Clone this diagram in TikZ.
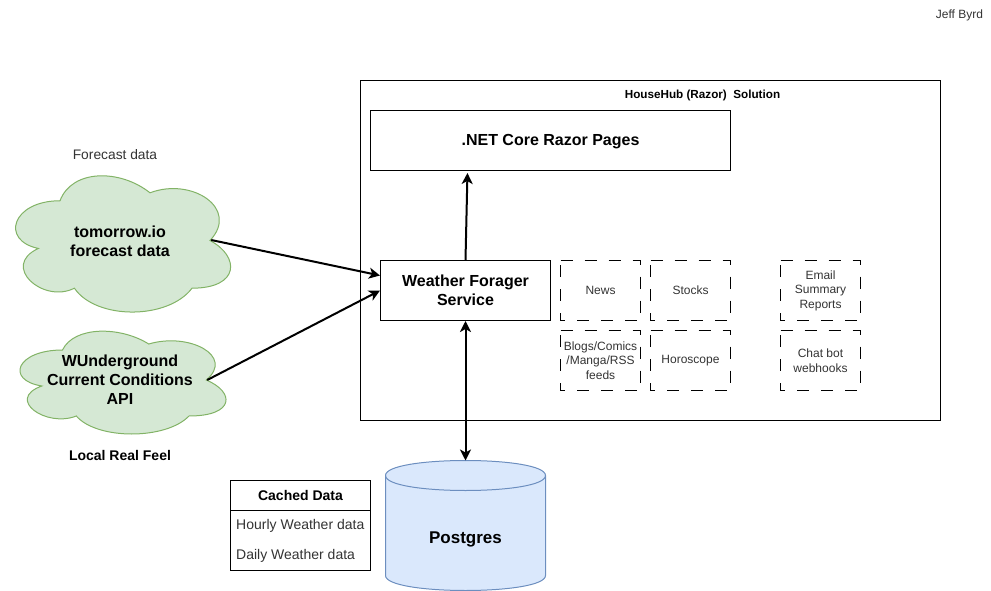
\documentclass[tikz,border=0pt]{standalone}
\usepackage{fontspec}
\setmainfont{Liberation Sans}
\usetikzlibrary{arrows.meta}
\definecolor{cloudfill}{HTML}{D5E8D4}
\definecolor{cloudline}{HTML}{82B366}
\definecolor{dbfill}{HTML}{DAE8FC}
\definecolor{dbline}{HTML}{6C8EBF}
\definecolor{smalltext}{HTML}{333333}
\tikzset{plainbox/.style={draw, line width=1pt, inner sep=0pt, align=center}}
\tikzset{boldlabel/.style={inner sep=0pt, align=center, font=\fontsize{16}{19}\selectfont\bfseries}}
\tikzset{feedbox/.style={inner sep=0pt, outer sep=0pt, align=center, minimum width=80pt, minimum height=60pt, text=smalltext, font=\fontsize{12}{14.5}\selectfont}}
\tikzset{feedline/.style={line width=1pt, dash pattern=on 12pt off 12pt}}
\tikzset{smalllabel/.style={inner sep=0pt, align=center, font=\fontsize{12}{15}\selectfont}}
\tikzset{midlabel/.style={inner sep=0pt, align=center, font=\fontsize{14}{17}\selectfont}}
\tikzset{flow/.style={line width=2pt, -{Stealth[length=11pt, width=11pt, inset=3pt]}}}
\tikzset{flowboth/.style={line width=2pt, {Stealth[length=11pt, width=11pt, inset=3pt]}-{Stealth[length=11pt, width=11pt, inset=3pt]}}}
\newcommand{\cloudblob}[4]{\draw[draw=cloudline, fill=cloudfill, line width=1pt, shift={(#1,#2)}, xscale=#3, yscale=#4]
    (0.25,0.25) .. controls (0.05,0.25) and (0,0.5) .. (0.16,0.55)
    .. controls (0,0.66) and (0.18,0.9) .. (0.31,0.8)
    .. controls (0.4,1) and (0.7,1) .. (0.8,0.8)
    .. controls (1,0.8) and (1,0.6) .. (0.875,0.5)
    .. controls (1,0.3) and (0.8,0.1) .. (0.625,0.2)
    .. controls (0.5,0.05) and (0.3,0.05) .. (0.25,0.25) -- cycle;}

\begin{document}
\begin{tikzpicture}[x=1pt, y=-1pt]
    \useasboundingbox (0,0) rectangle (991,591);
    \node[smalllabel, text=smalltext] (author) at (959.5,15) {Jeff Byrd};
    \draw[line width=1pt] (360.5,80.5) rectangle (940.5,420.5);
    \node[smalllabel, font=\fontsize{11.7}{15}\selectfont\bfseries] (solution) at (702.5,95) {HouseHub (Razor)\ \ Solution};
    \node[plainbox, boldlabel, draw, minimum width=360pt, minimum height=60pt, line width=1pt, text depth=1.5pt] (razor) at (550.5,140.5) {.NET Core Razor Pages};
    \node[plainbox, boldlabel, draw, minimum width=170pt, minimum height=60pt, line width=1pt] (forager) at (465.5,290.5) {Weather Forager\\Service};

    \node[feedbox] (news) at (600.5,290.5) {News};
    \node[feedbox] (stocks) at (690.5,290.5) {Stocks};
    \node[feedbox] (blogs) at (600.5,360.5) {Blogs/Comics\\/Manga/RSS\\feeds};
    \node[feedbox] (horoscope) at (690.5,360.5) {Horoscope};
    \node[feedbox] (email) at (820.5,290.5) {Email\\Summary\\Reports};
    \node[feedbox] (chatbot) at (820.5,360.5) {Chat bot\\webhooks};
    \foreach \feedname in {news, stocks, blogs, horoscope, email, chatbot}
        \draw[feedline] (\feedname.north west) -- (\feedname.north east) -- (\feedname.south east) -- (\feedname.south west) -- cycle;

    \cloudblob{0}{161}{240}{159}
    \cloudblob{5}{320}{230}{120}
    \node[midlabel, text=smalltext, font=\fontsize{13.8}{17}\selectfont] (forecastlabel) at (115,155) {Forecast data};
    \node[boldlabel, minimum width=182pt] (tomorrow) at (120,241) {tomorrow.io\\forecast data};
    \node[boldlabel, minimum width=174pt] (wunderground) at (120,380) {WUnderground\\Current Conditions\\API};
    \node[midlabel, font=\fontsize{14}{17}\selectfont\bfseries] (realfeel) at (120,455) {Local Real Feel};

    \draw[draw=dbline, fill=dbfill, line width=1pt] (385.5,475.5) .. controls (385.5,455.5) and (545.5,455.5) .. (545.5,475.5)
        -- (545.5,575.5) .. controls (545.5,595.5) and (385.5,595.5) .. (385.5,575.5) -- cycle;
    \draw[draw=dbline, line width=1pt] (385.5,475.5) .. controls (385.5,495.5) and (545.5,495.5) .. (545.5,475.5);
    \coordinate (postgrestop) at (465.5,460.5);
    \node[boldlabel, font=\fontsize{17}{19}\selectfont\bfseries] (postgres) at (465.5,539.5) {Postgres};

    \node[plainbox, minimum width=140pt, minimum height=90pt] (cached) at (300.5,525.5) {};
    \node[midlabel, font=\fontsize{14}{17}\selectfont\bfseries] (cachedtitle) at (300.5,495) {Cached Data};
    \draw[line width=1pt] (230.5,510.5) -- (370.5,510.5);
    \node[midlabel, text=smalltext, anchor=west] (hourly) at (236,525.5) {Hourly Weather data};
    \node[midlabel, text=smalltext, anchor=west] (daily) at (236,555.5) {Daily Weather data};

    \draw[flow] ([yshift=1pt]tomorrow.east) -- ([yshift=15pt]forager.west);
    \draw[flow] (wunderground.east) -- (forager.west);
    \draw[flow, shorten >=2pt] (forager.north) -- ([xshift=-83pt]razor.south);
    \draw[flowboth] (forager.south) -- (postgrestop);
\end{tikzpicture}
\end{document}
